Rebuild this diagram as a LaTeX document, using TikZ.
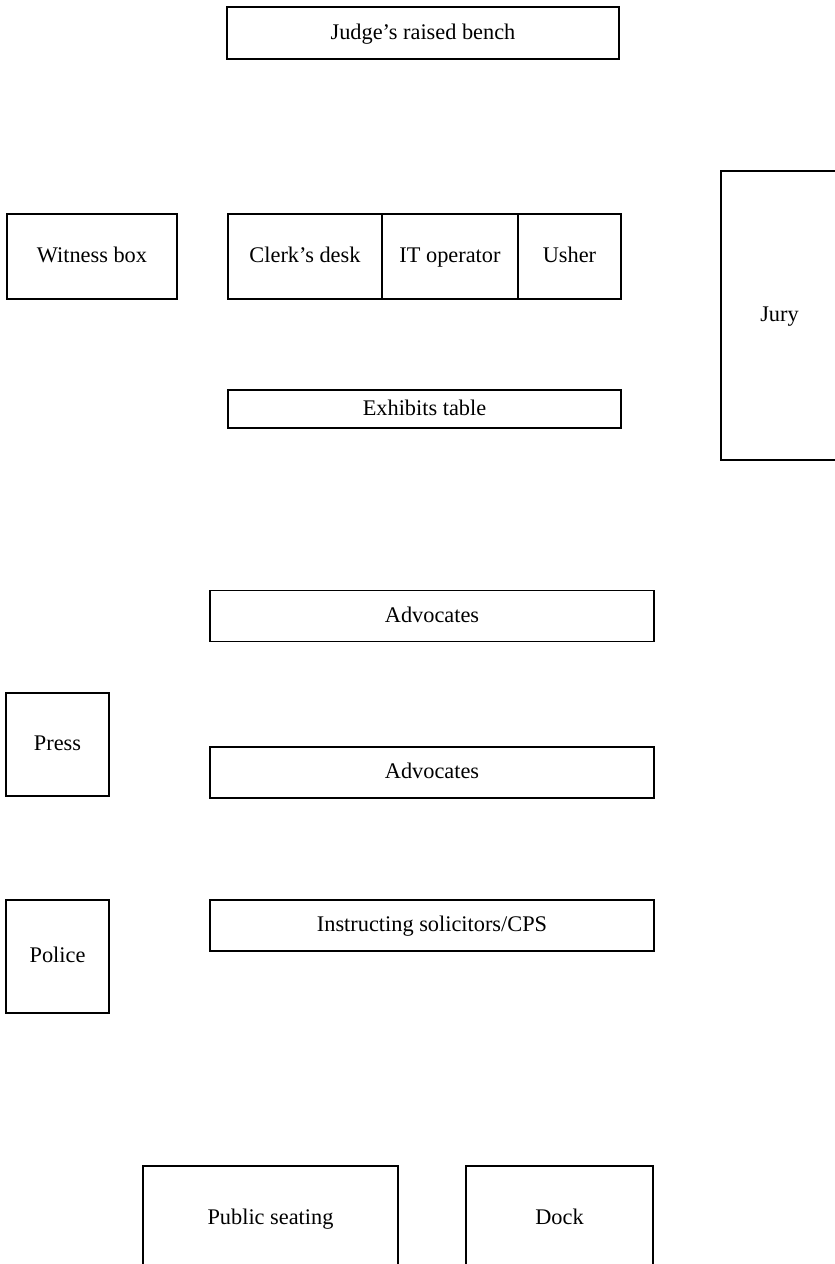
\documentclass[tikz,border=0pt]{standalone}
\usepackage{fontspec}
\setmainfont{Liberation Serif}

\begin{document}
\begin{tikzpicture}[x=0.6pt, y=-0.6pt,
    room/.style={draw, thick, rectangle, inner sep=0pt, text height=1.9ex, text depth=.25ex, font=\fontsize{13.4}{16}\selectfont}
    ]
    \useasboundingbox (0,0) rectangle (835,1264);
    \clip (0,0) rectangle (835,1264);

    % bench and the well of the court
    \node[room, minimum width=235.2pt, minimum height=31.2pt] (bench) at (423,33) {Judge's raised bench};
    \node[room, minimum width=102pt, minimum height=51pt] (witness) at (92,256.5) {Witness box};
    \node[room, minimum width=92.4pt, minimum height=51pt] (clerk) at (305,256.5) {Clerk's desk};
    \node[room, minimum width=81.6pt, minimum height=51pt] (itop) at (450,256.5) {IT operator};
    \node[room, minimum width=61.8pt, minimum height=51pt] (usher) at (569.5,256.5) {Usher};
    \node[room, minimum width=235.8pt, minimum height=22.8pt] (exhibits) at (424.5,409) {Exhibits table};
    \node[room, minimum width=70.2pt, minimum height=173.4pt] (jury) at (779.5,315.5) {Jury};

    % benches for counsel
    \node[room, minimum width=266.4pt, minimum height=30.6pt] (adv1) at (432,616) {Advocates};
    \node[room, minimum width=61.8pt, minimum height=61.8pt] (press) at (57.5,744.5) {Press};
    \node[room, minimum width=266.4pt, minimum height=30.6pt] (adv2) at (432,772.5) {Advocates};
    \node[room, minimum width=61.8pt, minimum height=67.8pt] (police) at (57.5,956.5) {Police};
    \node[room, minimum width=266.4pt, minimum height=30.6pt] (solic) at (432,925.5) {Instructing solicitors/CPS};

    % back of the room
    \node[room, minimum width=153pt, minimum height=62.4pt] (public) at (270.5,1218) {Public seating};
    \node[room, minimum width=112.2pt, minimum height=62.4pt] (dock) at (559.5,1218) {Dock};

\end{tikzpicture}
\end{document}
